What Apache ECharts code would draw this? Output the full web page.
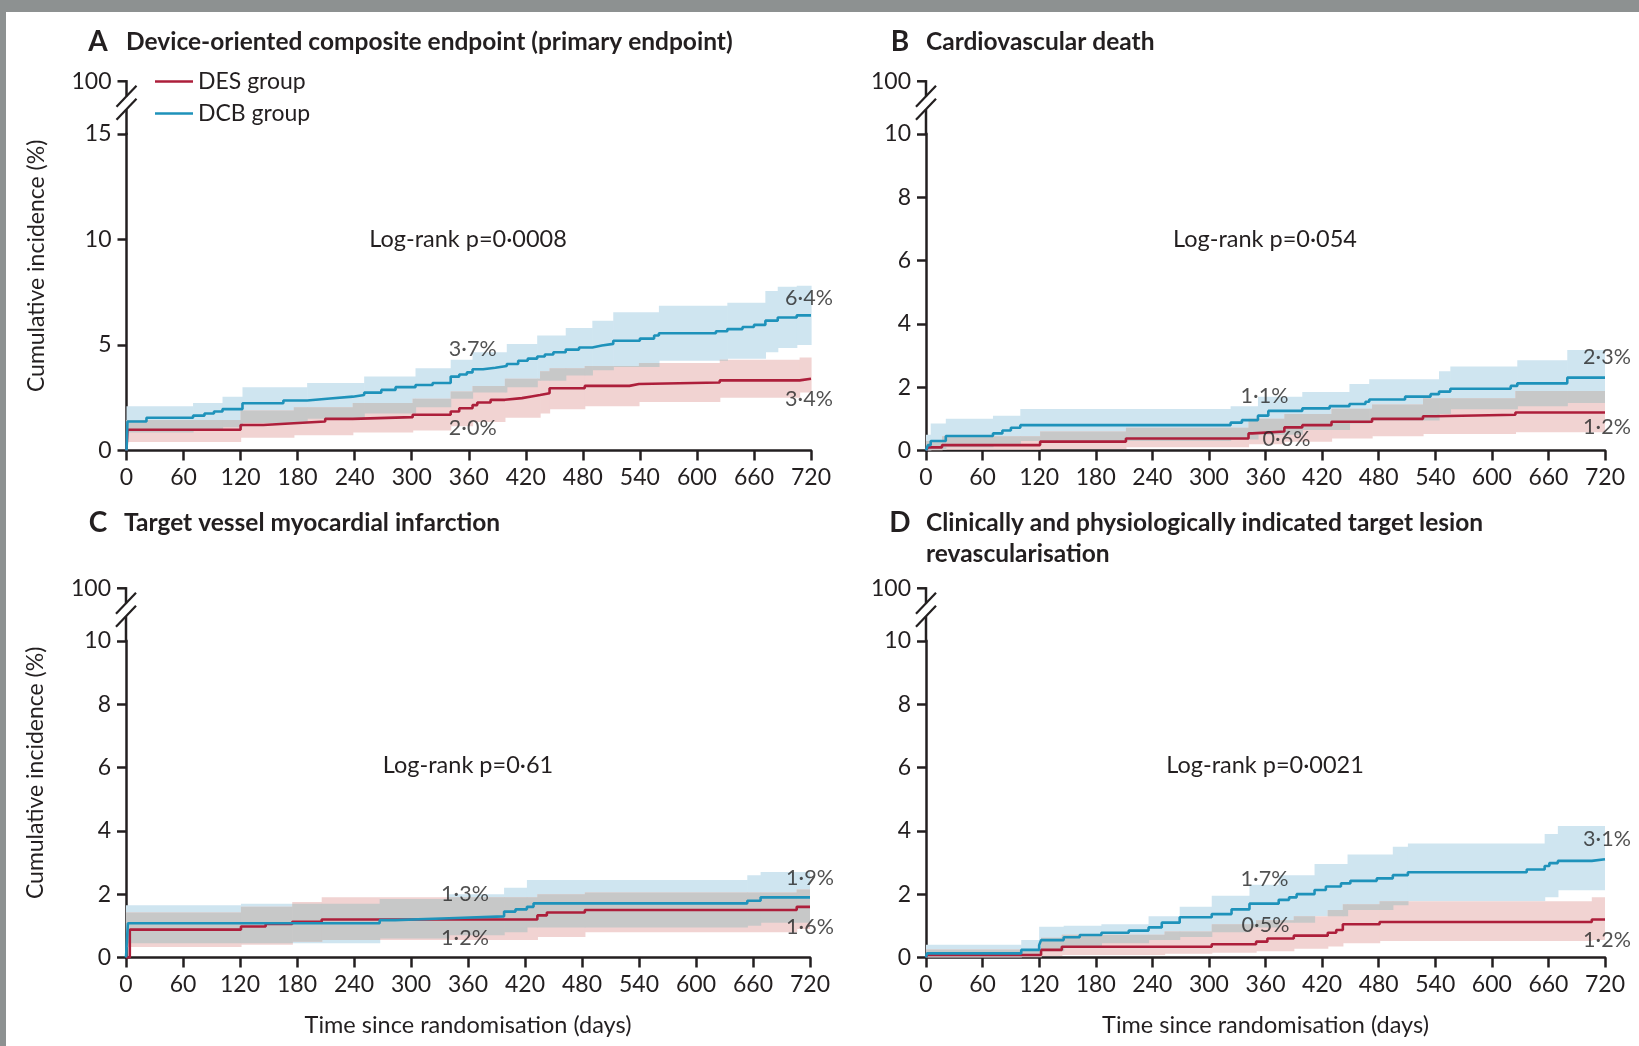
<!DOCTYPE html>
<html>
<head>
<meta charset="utf-8">
<script src="https://cdn.jsdelivr.net/npm/echarts@6/dist/echarts.min.js"></script>
<style>
  html, body { margin: 0; padding: 0; background: #ffffff; }
  #chart { width: 1639px; height: 1046px; }
</style>
</head>
<body>
<div id="chart"></div>
<script>
// ---------- data: Kaplan-Meier cumulative incidence (%) by day ----------
const X_MAX = 720;
const X_STEP = 60;

// A: device-oriented composite endpoint
const A_DES = [[0,0],[1,0.98],[120,1.21],[144,1.29],[176,1.37],[209,1.5],[238,1.58],[301,1.69],[341,1.85],[350,2.0],[364,2.15],[369,2.27],[383,2.4],[398,2.48],[416,2.56],[426,2.63],[435,2.71],[445,2.95],[482,3.06],[529,3.15],[539,3.22],[624,3.32],[708,3.4],[720,3.4]];
const A_DCB = [[0,0],[1,1.37],[21,1.55],[70,1.65],[82,1.75],[92,1.85],[101,1.96],[122,2.24],[165,2.37],[190,2.46],[214,2.55],[238,2.63],[250,2.74],[268,2.87],[283,3.0],[304,3.1],[322,3.2],[341,3.5],[350,3.6],[358,3.7],[364,3.85],[375,3.92],[388,4.0],[400,4.1],[412,4.25],[422,4.35],[432,4.45],[440,4.55],[449,4.65],[462,4.78],[476,4.88],[490,4.97],[500,5.05],[512,5.2],[540,5.3],[555,5.45],[560,5.55],[620,5.65],[632,5.75],[648,5.85],[660,5.95],[672,6.15],[685,6.3],[705,6.4],[720,6.4]];
// 95% CI steps: [day, lower, upper]
const A_DES_CI = [[0,0.4,1.45],[120,0.6,1.9],[176,0.72,2.05],[238,0.85,2.25],[301,0.95,2.45],[341,1.15,2.8],[364,1.35,3.05],[398,1.55,3.4],[435,1.75,3.75],[445,1.95,3.9],[482,2.1,4.0],[539,2.3,4.15],[624,2.5,4.3],[708,2.75,4.4],[720,2.75,4.4]];
const A_DCB_CI = [[0,0.85,2.1],[70,0.95,2.25],[101,1.1,2.55],[122,1.3,3.0],[190,1.5,3.2],[250,1.75,3.5],[304,2.05,3.9],[341,2.45,4.3],[364,2.75,4.65],[400,3.0,5.05],[432,3.3,5.45],[462,3.55,5.8],[490,3.8,6.15],[512,3.95,6.55],[560,4.25,6.85],[632,4.35,7.0],[672,4.65,7.55],[685,4.85,7.75],[705,5.0,7.8],[720,5.0,7.8]];
const A_NOTES = [[360,3.7],[360,2.0],[720,6.4],[720,3.4]];

// B: cardiovascular death
const B_DES = [[0,0],[2,0.1],[17,0.17],[121,0.28],[212,0.38],[342,0.54],[346,0.6],[380,0.73],[399,0.8],[430,0.91],[473,1.0],[527,1.08],[540,1.13],[625,1.2],[720,1.2]];
const B_DCB = [[0,0],[2,0.17],[5,0.3],[21,0.46],[71,0.54],[81,0.63],[90,0.72],[100,0.8],[323,0.88],[335,0.96],[352,1.1],[363,1.25],[399,1.33],[428,1.4],[449,1.47],[466,1.54],[470,1.61],[508,1.7],[535,1.78],[544,1.86],[556,1.95],[620,2.04],[627,2.12],[680,2.3],[720,2.3]];
const B_DES_CI = [[0,0,0.3],[17,0.02,0.45],[121,0.05,0.6],[212,0.1,0.72],[342,0.2,1.0],[380,0.28,1.15],[430,0.38,1.32],[473,0.45,1.45],[527,0.52,1.65],[625,0.58,1.88],[720,0.58,1.88]];
const B_DCB_CI = [[0,0,0.5],[5,0.02,0.85],[21,0.1,1.0],[71,0.15,1.1],[100,0.3,1.31],[323,0.35,1.4],[352,0.5,1.7],[399,0.65,1.85],[449,0.85,2.1],[470,0.95,2.25],[544,1.15,2.5],[556,1.3,2.65],[627,1.4,2.85],[680,1.5,3.17],[720,1.5,3.17]];
const B_NOTES = [[360,1.1],[360,0.6],[720,2.3],[720,1.2]];

// C: target vessel myocardial infarction
const C_DES = [[0,0],[4,0.88],[121,0.98],[147,1.06],[175,1.13],[206,1.2],[433,1.33],[443,1.42],[483,1.5],[706,1.6],[720,1.6]];
const C_DCB = [[0,0],[2,1.08],[267,1.18],[283,1.24],[340,1.3],[398,1.45],[410,1.52],[422,1.6],[429,1.71],[654,1.79],[668,1.9],[720,1.9]];
const C_DES_CI = [[0,0.33,1.42],[121,0.4,1.6],[175,0.5,1.75],[206,0.55,1.9],[433,0.65,2.0],[483,0.8,2.05],[706,0.9,2.15],[720,0.9,2.15]];
const C_DCB_CI = [[0,0.45,1.65],[121,0.45,1.7],[267,0.6,1.85],[340,0.7,2.0],[398,0.8,2.2],[422,0.95,2.45],[654,1.0,2.6],[668,1.1,2.7],[720,1.1,2.7]];
const C_NOTES = [[360,1.3],[360,1.2],[720,1.9],[720,1.6]];

// D: clinically and physiologically indicated target lesion revascularisation
const D_DES = [[0,0],[1,0.08],[122,0.24],[144,0.34],[303,0.42],[350,0.5],[362,0.6],[390,0.69],[426,0.78],[435,0.87],[442,1.05],[481,1.12],[706,1.2],[720,1.2]];
const D_DCB = [[0,0],[1,0.13],[101,0.24],[120,0.39],[122,0.55],[146,0.64],[163,0.71],[186,0.78],[215,0.85],[236,0.95],[250,1.1],[269,1.27],[303,1.37],[324,1.52],[343,1.7],[374,1.82],[385,1.9],[393,2.0],[412,2.13],[424,2.24],[440,2.34],[450,2.42],[478,2.5],[495,2.6],[511,2.69],[637,2.78],[656,2.89],[661,2.98],[670,3.05],[706,3.1],[720,3.1]];
const D_DES_CI = [[0,0,0.25],[122,0.05,0.62],[144,0.08,0.72],[253,0.12,0.82],[303,0.15,1.05],[350,0.2,1.18],[390,0.28,1.3],[426,0.35,1.5],[442,0.45,1.68],[481,0.52,1.78],[706,0.55,1.9],[720,0.55,1.9]];
const D_DCB_CI = [[0,0,0.4],[101,0.02,0.55],[120,0.2,0.97],[146,0.35,1.0],[186,0.45,1.05],[236,0.55,1.3],[269,0.65,1.6],[303,0.8,1.95],[343,0.95,2.3],[374,1.1,2.6],[412,1.3,2.95],[447,1.5,3.25],[495,1.65,3.5],[511,1.78,3.6],[656,1.9,3.9],[670,2.12,4.15],[720,2.12,4.15]];
const D_NOTES = [[360,1.7],[360,0.5],[720,3.1],[720,1.2]];

const GROUPS = ['DES group', 'DCB group'];
const Y_TITLE = 'Cumulative incidence (%)';
const X_TITLE = 'Time since randomisation (days)';

// ---------- style ----------
const FONT = 'Lato, "Open Sans", "Noto Sans", sans-serif';
const INK = '#231f20';
const NOTE_INK = '#262626';
const DES_COLOR = '#ad1f3b';
const DCB_COLOR = '#1e92ba';
const DES_BAND = '#f1d3d2';
const DCB_BAND = '#cfe5f0';
const BOTH_BAND = '#c7c8c8';
const TICK_FONT = 23;

const PANELS = [
  { letter: 'A', title: ['Device-oriented composite endpoint (primary endpoint)'], logrank: 'Log-rank p=0·0008',
    des: A_DES, dcb: A_DCB, desCI: A_DES_CI, dcbCI: A_DCB_CI, notes: A_NOTES, yMax: 15, yStep: 5,
    grid: { left: 126.5, top: 133.8, width: 684.5, height: 316.7 },
    letterX: 98, titleX: 126, titleY: 42, logrankPos: [468, 239],
    noteOffsets: [[4,-23],[4,20],[-2,-17],[-2,20]], yTitle: true, xTitle: false },
  { letter: 'B', title: ['Cardiovascular death'], logrank: 'Log-rank p=0·054',
    des: B_DES, dcb: B_DCB, desCI: B_DES_CI, dcbCI: B_DCB_CI, notes: B_NOTES, yMax: 10, yStep: 2,
    grid: { left: 926, top: 133.8, width: 679, height: 316.7 },
    letterX: 900, titleX: 926, titleY: 42, logrankPos: [1265, 239],
    noteOffsets: [[-1,-20],[21,8],[2,-21],[2,15]], yTitle: false, xTitle: false },
  { letter: 'C', title: ['Target vessel myocardial infarction'], logrank: 'Log-rank p=0·61',
    des: C_DES, dcb: C_DCB, desCI: C_DES_CI, dcbCI: C_DCB_CI, notes: C_NOTES, yMax: 10, yStep: 2,
    grid: { left: 126, top: 640.8, width: 684, height: 316.7 },
    letterX: 98, titleX: 124, titleY: 522.6, logrankPos: [468, 765],
    noteOffsets: [[-3,-22],[-3,19],[0,-19],[0,20]], yTitle: true, xTitle: true },
  { letter: 'D', title: ['Clinically and physiologically indicated target lesion', 'revascularisation'], logrank: 'Log-rank p=0·0021',
    des: D_DES, dcb: D_DCB, desCI: D_DES_CI, dcbCI: D_DCB_CI, notes: D_NOTES, yMax: 10, yStep: 2,
    grid: { left: 926, top: 640.8, width: 679, height: 316.7 },
    letterX: 900, titleX: 926, titleY: 522.6, logrankPos: [1265, 765],
    noteOffsets: [[-1,-25],[0,-17],[2,-20],[2,21]], yTitle: false, xTitle: true }
];

// ---------- helpers ----------
function stepAt(ci, t) {
  let row = ci[0];
  for (const r of ci) { if (r[0] <= t) row = r; else break; }
  return row;
}
function ciIntervals(ci) {
  const out = [];
  for (let i = 0; i < ci.length - 1; i++) out.push([ci[i][0], ci[i + 1][0], ci[i][1], ci[i][2]]);
  return out;
}
function overlapIntervals(a, b) {
  const ts = Array.from(new Set(a.map(r => r[0]).concat(b.map(r => r[0])))).sort((x, y) => x - y);
  const out = [];
  for (let i = 0; i < ts.length - 1; i++) {
    const ra = stepAt(a, ts[i]), rb = stepAt(b, ts[i]);
    const lo = Math.max(ra[1], rb[1]), hi = Math.min(ra[2], rb[2]);
    if (hi > lo) out.push([ts[i], ts[i + 1], lo, hi]);
  }
  return out;
}
function bandRenderer(color) {
  return function (params, api) {
    const p0 = api.coord([api.value(0), api.value(3)]);
    const p1 = api.coord([api.value(1), api.value(2)]);
    return {
      type: 'rect',
      shape: { x: p0[0], y: p0[1], width: p1[0] - p0[0] + 0.6, height: p1[1] - p0[1] },
      style: { fill: color }
    };
  };
}
function fmtPct(v) { return v.toFixed(1).replace('.', '·') + '%'; }

// ---------- option ----------
const grids = [], xAxes = [], yAxes = [], series = [];
PANELS.forEach((P, i) => {
  grids.push(Object.assign({ containLabel: false }, P.grid));
  xAxes.push({
    gridIndex: i, type: 'value', min: 0, max: X_MAX, interval: X_STEP,
    axisLine: { show: true, onZero: false, lineStyle: { color: INK, width: 2.5 } },
    axisTick: { show: true, length: 10, lineStyle: { color: INK, width: 2.5 } },
    axisLabel: { margin: 16, fontSize: TICK_FONT, fontFamily: FONT, color: INK },
    splitLine: { show: false },
    name: P.xTitle ? X_TITLE : '', nameLocation: 'middle', nameGap: 56,
    nameTextStyle: { fontSize: 23.5, fontFamily: FONT, color: INK }
  });
  yAxes.push({
    gridIndex: i, type: 'value', min: 0, max: P.yMax, interval: P.yStep,
    axisLine: { show: true, lineStyle: { color: INK, width: 2.5 } },
    axisTick: { show: true, length: 9, lineStyle: { color: INK, width: 2.5 } },
    axisLabel: { margin: 15, fontSize: TICK_FONT, fontFamily: FONT, color: INK },
    splitLine: { show: false }
  });

  const bands = [
    ['DCB CI', ciIntervals(P.dcbCI), DCB_BAND],
    ['DES CI', ciIntervals(P.desCI), DES_BAND],
    ['CI overlap', overlapIntervals(P.dcbCI, P.desCI), BOTH_BAND]
  ];
  bands.forEach(([name, data, color]) => {
    series.push({
      name, type: 'custom', xAxisIndex: i, yAxisIndex: i, data,
      encode: { x: [0, 1], y: [2, 3] }, renderItem: bandRenderer(color),
      clip: true, silent: true, z: 1
    });
  });

  [['DES group', P.des, DES_COLOR], ['DCB group', P.dcb, DCB_COLOR]].forEach(([name, data, color]) => {
    series.push({
      name, type: 'line', xAxisIndex: i, yAxisIndex: i, data, step: 'end',
      showSymbol: false, symbol: 'none', color,
      itemStyle: { color }, lineStyle: { color, width: 2.6 },
      silent: true, z: 3
    });
  });

  series.push({
    name: 'notes', type: 'scatter', xAxisIndex: i, yAxisIndex: i, symbolSize: 0, silent: true, z: 4,
    data: P.notes.map((n, k) => ({
      value: n,
      label: { show: true, position: 'inside', offset: P.noteOffsets[k], formatter: () => fmtPct(n[1]) }
    })),
    label: { fontSize: 21.5, fontFamily: FONT, color: NOTE_INK }
  });
});

const chart = echarts.init(document.getElementById('chart'), null, { renderer: 'canvas' });
chart.setOption({
  animation: false,
  backgroundColor: '#ffffff',
  grid: grids, xAxis: xAxes, yAxis: yAxes, series,
  legend: {
    data: GROUPS, orient: 'vertical', left: 150, top: 65,
    icon: 'rect', itemWidth: 38, itemHeight: 2.5, itemGap: 9,
    selectedMode: false,
    textStyle: { fontSize: 23, fontFamily: FONT, color: INK, padding: [0, 0, 0, 0] }
  }
});

// ---------- titles, axis breaks and annotation text ----------
function txt(x, y, str, size, opts) {
  opts = opts || {};
  const align = opts.align || 'left';
  return {
    type: 'text', x, y, rotation: opts.rotation || 0, silent: true, z: 10,
    style: {
      text: str, fontSize: size, fontFamily: FONT, fontWeight: opts.weight || 'normal',
      fill: opts.fill || INK, align, textAlign: align,
      verticalAlign: 'middle', textVerticalAlign: 'middle'
    }
  };
}
function seg(x1, y1, x2, y2, w) {
  return { type: 'line', silent: true, z: 10,
    shape: { x1, y1, x2, y2 }, style: { stroke: INK, lineWidth: w || 2.5 } };
}

const gfx = [
  { type: 'rect', silent: true, z: 20, shape: { x: 0, y: 0, width: 1639, height: 12 }, style: { fill: '#8d9191' } },
  { type: 'rect', silent: true, z: 20, shape: { x: 0, y: 0, width: 6, height: 1046 }, style: { fill: '#8d9191' } }
];
PANELS.forEach((P, i) => {
  const origin = chart.convertToPixel({ gridIndex: i }, [0, 0]);
  const top = chart.convertToPixel({ gridIndex: i }, [0, P.yMax]);
  const ax = origin[0], y0 = origin[1], yTop = top[1];
  const y100 = yTop - 52.5;

  // panel letter and heading
  gfx.push(txt(P.letterX, P.titleY, P.letter, 28, { align: 'center', weight: 'bold' }));
  P.title.forEach((line, k) => gfx.push(txt(P.titleX, P.titleY + k * 31.5, line, 24.5, { weight: 'bold' })));

  // broken y axis up to 100
  gfx.push(seg(ax - 9, y100, ax, y100));
  gfx.push(seg(ax, y100 - 1.2, ax, y100 + 15));
  gfx.push(seg(ax - 10, y100 + 25.5, ax + 10, y100 + 4.5, 2.2));
  gfx.push(seg(ax - 10, y100 + 38.5, ax + 10, y100 + 17.5, 2.2));
  gfx.push(seg(ax, y100 + 28, ax, yTop + 1));
  gfx.push(txt(ax - 15, y100, '100', TICK_FONT, { align: 'right' }));

  if (P.yTitle) {
    gfx.push(txt(ax - 90, (y100 + y0) / 2, Y_TITLE, 23, { align: 'center', rotation: Math.PI / 2 }));
  }
  gfx.push(txt(P.logrankPos[0], P.logrankPos[1], P.logrank, 23.5, { align: 'center' }));
});
chart.setOption({ graphic: { elements: gfx } });
</script>
</body>
</html>
